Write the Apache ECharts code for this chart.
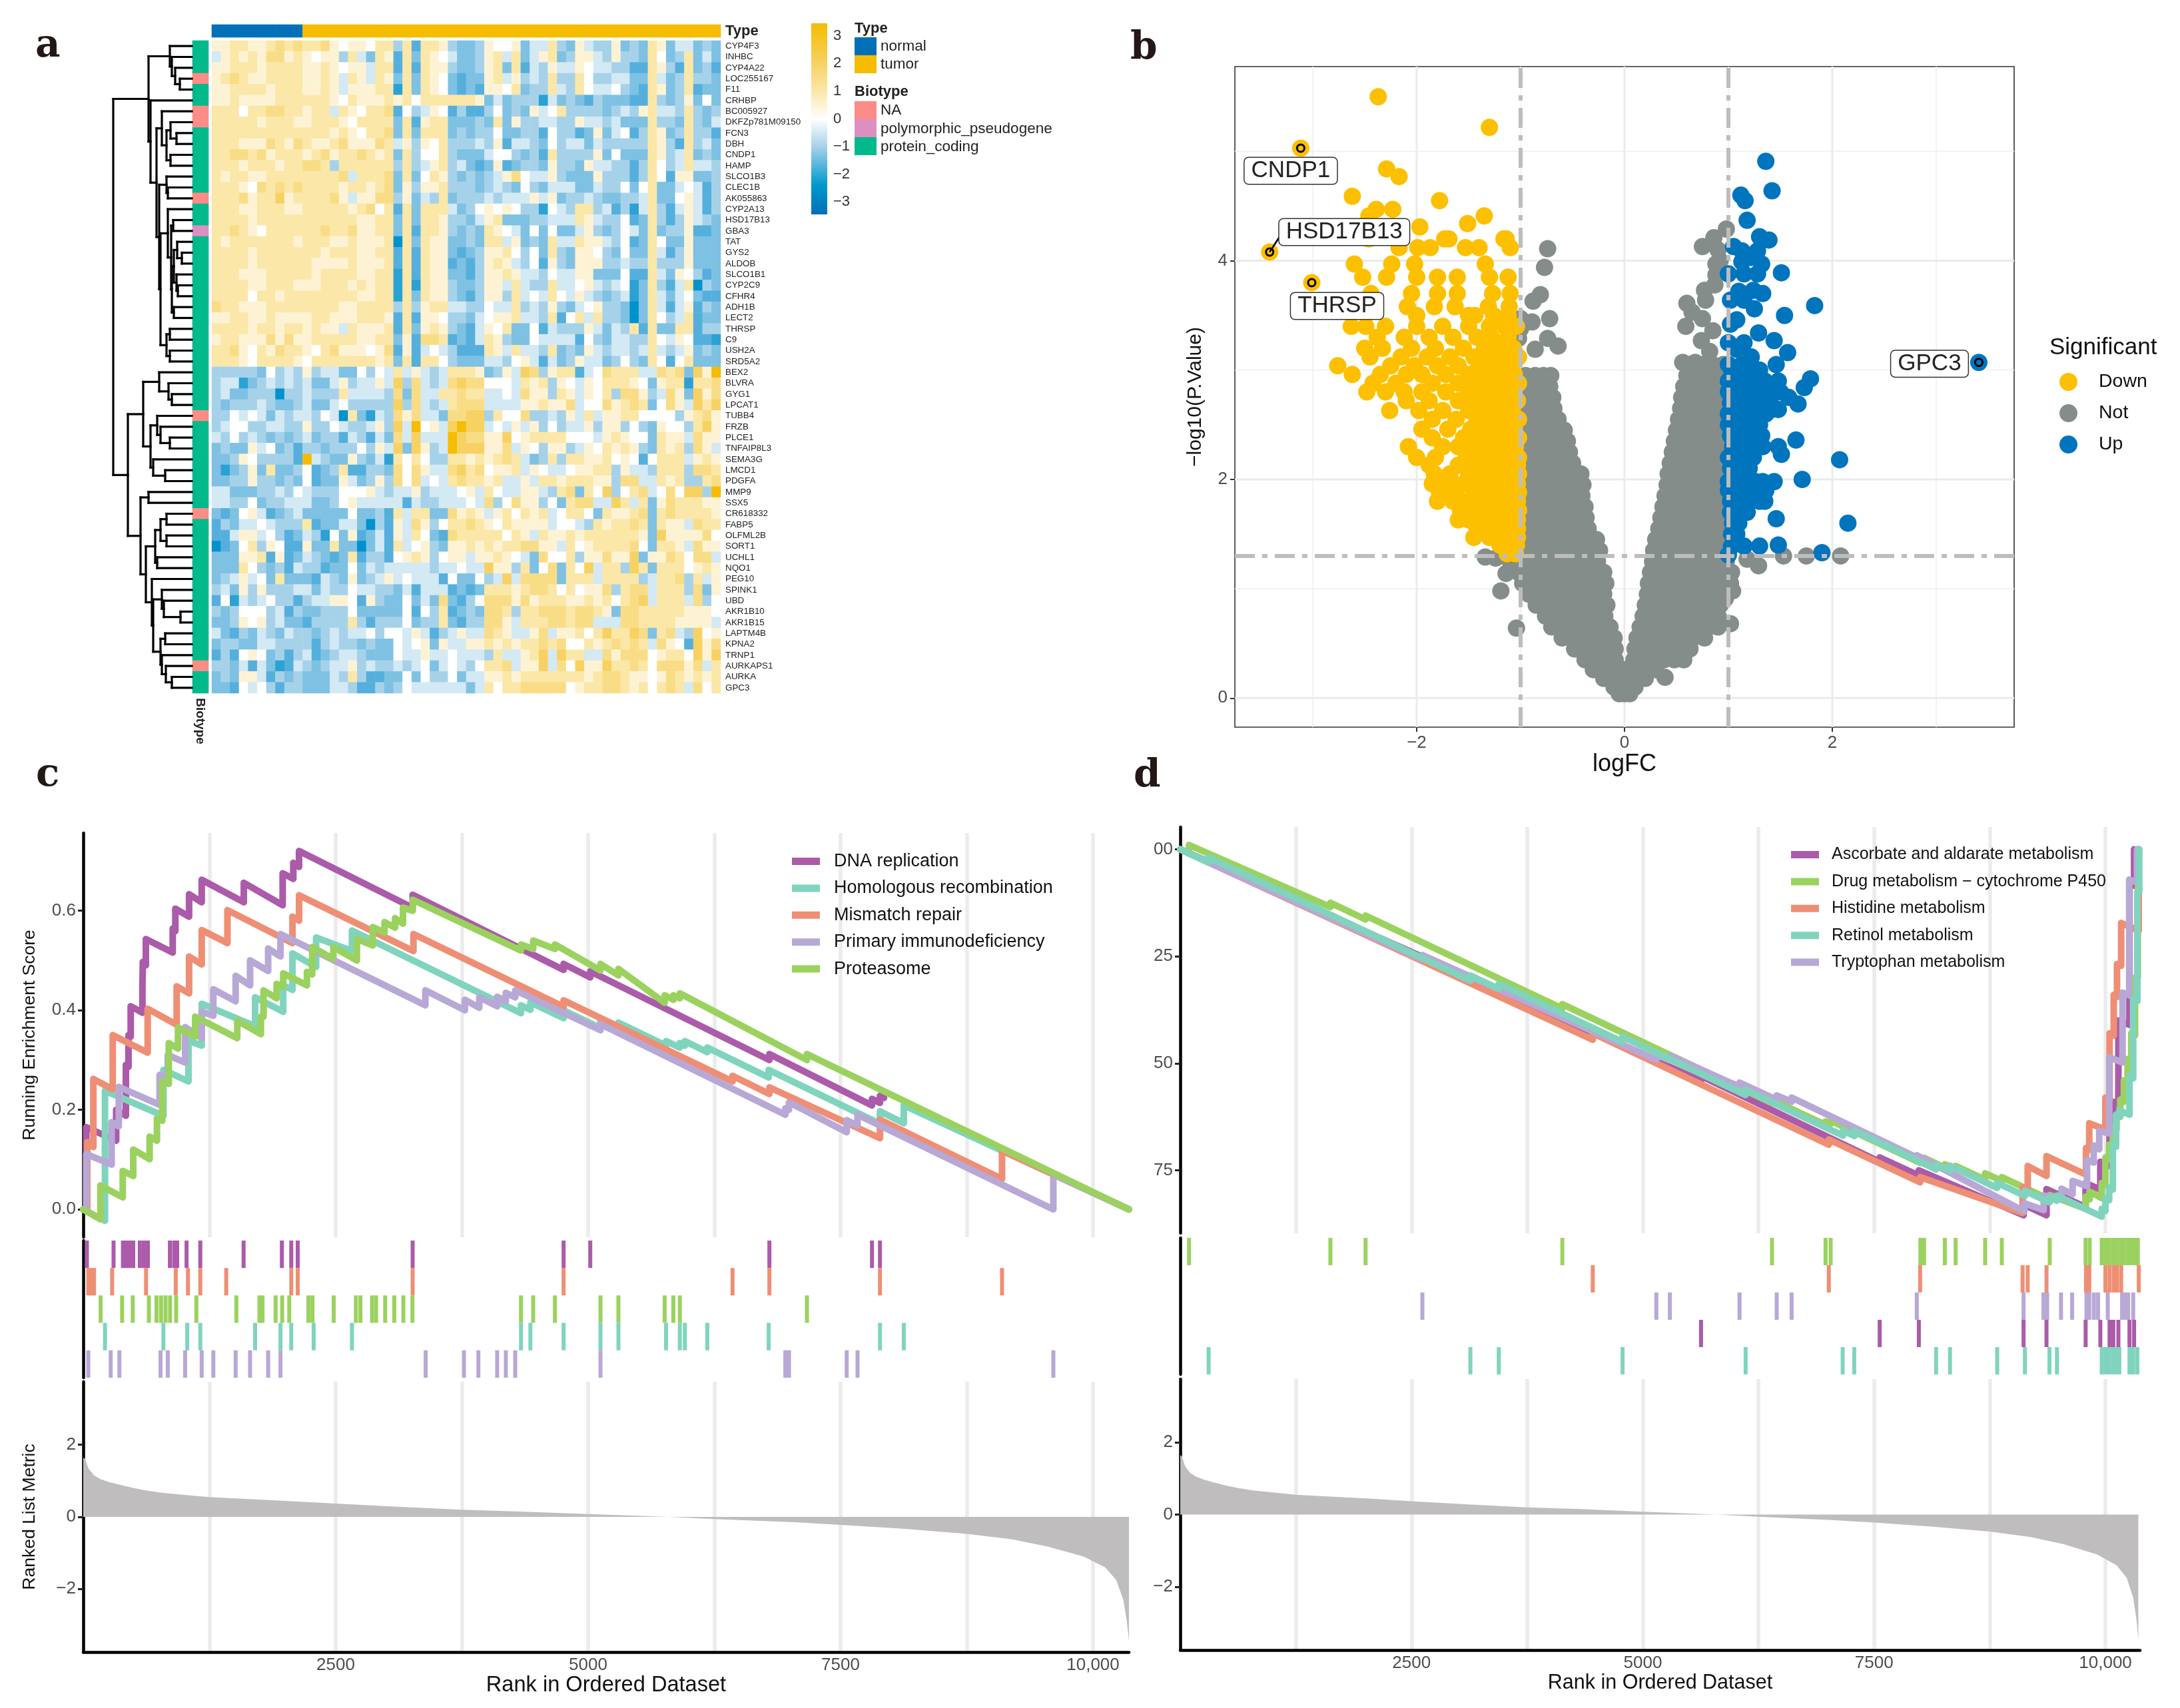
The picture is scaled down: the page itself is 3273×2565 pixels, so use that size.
<!DOCTYPE html>
<html><head><meta charset="utf-8">
<style>html,body{margin:0;padding:0;background:#fff}#c{width:3273px;height:2565px}</style>
<script src="https://cdn.jsdelivr.net/npm/echarts@6/dist/echarts.min.js"></script>
</head><body><div id="c"></div>
<script>
/* ---------- panel a: heatmap ---------- */
const geneNames=["CYP4F3","INHBC","CYP4A22","LOC255167","F11","CRHBP","BC005927","DKFZp781M09150","FCN3","DBH","CNDP1","HAMP","SLCO1B3","CLEC1B","AK055863","CYP2A13","HSD17B13","GBA3","TAT","GYS2","ALDOB","SLCO1B1","CYP2C9","CFHR4","ADH1B","LECT2","THRSP","C9","USH2A","SRD5A2","BEX2","BLVRA","GYG1","LPCAT1","TUBB4","FRZB","PLCE1","TNFAIP8L3","SEMA3G","LMCD1","PDGFA","MMP9","SSX5","CR618332","FABP5","OLFML2B","SORT1","UCHL1","NQO1","PEG10","SPINK1","UBD","AKR1B10","AKR1B15","LAPTM4B","KPNA2","TRNP1","AURKAPS1","AURKA","GPC3"];
const levelValues={a:-3,b:-2.5,c:-2,d:-1.5,e:-1,f:-.5,g:0,h:.5,i:1,j:1.5,k:2,l:3};
const heatRows=[
"hhiihhijijiijhghhgii eiciihedde hgghdffied hfeehdedihdffded",
"fhihihjjhihghheifdih cidihgfdde hifidfhide hhfeheedigdeidfd",
"hhiiihiiiihhihghhfii cicihhedde hidicfehff hgffeeccihecidec",
"hijihhiiiihhihfihfih didihgdcdd hifhefeiee igeeffddifdeieed",
"hhiiiihiiihhihfhhhii bidihgdcdc hhgideeife igffgedcihdeicdd",
"hhihhhhiiiiiihgihhhi higiiiiiih dfdeeebfde dcedddcciedehdgd",
"iiigiijjiihiifihgiij cgefhgcecc egdedhfgie eeedefehiffeiede",
"iiiiihiiihhiiihgiiii dichiiddde didheeffee hffefdddieediedf",
"iiiiiiiiiiiiihihgiij didiiidede egddeecgee cdhdfgceihdeieec",
"iiihhhjihjihhijhhhji fhehgieeef ehcffedgef fdfeeeeeiheciefd",
"iijjijhiiihijhiijihi dieggieddd fggedeciee eehdgdddihefided",
"iiihiiihiijjieiiiiii eiefhiefdc dhcdeedhee dhffeeceigefiffe",
"ihiihhiiiiiiiijfiiij didgiheded efhjgffhed ddheeeceigchhdde",
"iiihgjijijiiiihiihij dhehhieeed efedgedfff ddfeegdgiddfgfce",
"iiijhiikhiiiijhfhhjj ehdfeideee fefffhfhde efeddeefiddghfce",
"iiihhiiihhiiiiihijgi cidiiifdeg hghgeebgfe iiefcebfiecfhfce",
"iiiihiiiiiiiiiiihhii didiiheedf hidddeefff ihfeegcdiecehfed",
"iijihgiiiiiijiijhhii diciiheded ihgfdgdgdd fhedegfdideehccd",
"ihiiiiiiihiiihhihhhi aidihhdded iifhdediff ihhfegcdigddhddd",
"iiiihiiiiiiihiiihhii cicihhdcde hhigegdied hhgedgddifcehddd",
"iiiihiiiiiihhhhihhhi cicihhcdce hihfegched hhheefeeieeehddd",
"iiihhhiiiiihiiiihhii bicihhddce hhihffegff hhdddgccifdhgecd",
"iiiihhiiihhhiiihihii bibihhedde hhfifeeiff ghfefgbdiecfiaed",
"iiiigiihiiiiiiiihhii bidihhedce hheifgfigf hfedefbdifdfgdcc",
"jiihhhiiiiiiiihhiiii eiehiiffee gffiefehed fgheedadifcfhced",
"hhiihhihhhhiihhhiiih cichhgeedf ghhiffeicg ifieedadigeficdd",
"iiiihiihiihihhfihhhi cidhihedcf hgiddgcfee ehfdfeiciddiicee",
"hiihhhjhjhhiiiiihhii dhcjjicdcf iheddgffff cgedffeeigfhgccb",
"iijhgihjiihgijhhhghj chcfgfeccc ihfiffeide dhfeffefifefhded",
"iiihgiiiihgiiiiiiihi diciigeddd ffeghfcfde hffdegedigcgiddd",
"eeeeedgefeheffddgegf ifhfefiiih dehfkjehii cfgjiiiffjijdkhl",
"effbdefefefddfheffhf kejfefjkjj gggfihiehg fhgiiihgdhiibiij",
"efddeeeaeefeeeiffffe jdjffiijii ffgfjhheih fhgiejjhefjhdkhj",
"edeeefeddefddfgeeeee kejfefijjj ffffhhihhj fggjhijidgjhfkik",
"eegfgfdfeffegfaidbfe jhjffdjjkk eiggjeefeh fifhhiiggggehijh",
"efggeeffeeheegfeefhe kflghfklkk fgfhfhegef fhehhegedhggeikh",
"fegefededefdeecfecfd jfkffflkjj hhkghiiiig ggfhihggdihhfjhh",
"deddhfgdeceedeeegehf kdkheflkkk hhjfhgehhe fhgihihedihiejhf",
"ddehgeeeeclfeddhedfb igigeeiihi hijifdeiei ihhighgcgiiifhih",
"dbdehdiddegcdeicceed jgjhffjkij ghhifhgffg hhiiehffeiiiejji",
"ddeeheededgcddhfdehe jgjfgfijii hiffhfiihi iihhejjffihieeij",
"ffdddeefegfeeeggghfe ffhefffghf igffhhfeij digkegijfgjgkkel",
"ffeegdeefffddeghffff fcfeefffgf jegjhhegdi jjffkifidhjiiihh",
"dcdghfcdefdddddgddec ifiiddjhih fhigihifgi igdihhijdijiiiih",
"cedffgfeeeicddffdaec hfjhegiiji hgihhhhfgg feihiijidihhfjii",
"ccfhhfgecdfebgdhcdfc hfigdcjiii iigihfihhi hiiiiiihdkhhhhjg",
"acdgiehgcchddiddadfc ifghedhhih ihiijjhhfi ghiiiijgdiihfjhh",
"dddhhichcdfedcdiceec ghiheghhfh hihgfdjggi ehhjhhkdhhjigjjf",
"dddigedecfeecddgdfef ffffeffgff khheidgjdi gkfiiekidiiighih",
"defhfgdidddcfedhdefh fgfffcgddg efkfjjjjdi iifiiiiefiijeifh",
"efdheheeeffdfeegffee dfcfffcdcd iiihijjigi ghhjeijjfiiiejdh",
"cgbfefgeeceffhhgched dgdfdjdceg jjjhjhiiih hihigijkfiiifjeg",
"edegggefceddeeegdddd dgcgeicded jjieiijjji jjihdjjiiiiihhhg",
"ddehghefddceeeeiecee egdeeidcee jjhfiiijji jjfffjjiiiihhhhf",
"fdcedfedfeedefeffgeg gfhfcefhff jihffhjfhh igikiikjdijfekgh",
"deeddffeeeecefeededd gfghdhffhh ihihiijijg gihijijifjhgckhj",
"cecghgdecefcdeffeddd gffhffgfff eiffhikfki iffjhjjjghiigkhk",
"eedfcfdbcfedeffhefee fefgdfgfeg iijfhhkfjg khhkiijigjjjhjfi",
"dedhhfcededddfeieccd dgdgeegdff hhihiiiiii ihijjihhghjihihi",
"ddcgfgeceedddffecced egffffffdf igiijjjjjg hiijjihigijifjgi"];
const typeNames=["normal","tumor"];
const typeColors=["#0070b8","#f5bc00"];
const typeCounts=[10,46];
const biotypeNames=["NA","polymorphic_pseudogene","protein_coding"];
const biotypeColors=["#fb8d86","#dd8fc2","#00ba8b"];
const biotypeNARows=[3,6,7,14,34,43,57];
const biotypePseudoRows=[17];
const colorbarTicks=[3,2,1,0,-1,-2,-3];
const colorbarStops=[[3.45,"#f5bc00"],[2,"#f7d263"],[1,"#fbe7a8"],[0,"#ffffff"],[-1,"#a6d2e9"],[-2.4,"#0098cc"],[-3.45,"#0070b9"]];
/* dendrogram: [height, left, right], leaves are row indexes */
const dendroTree=[118,
 [65,[33,0,[30,1,[25,2,[18,3,4]]]],
  [62,5,[53,
   [45,6,[38,[32,7,[23,8,9]],[32,10,11]]],
   [49,[38,12,[36,13,14]],
    [47,[36,15,[31,[28,16,17],[30,[27,[22,18,[15,19,20]],[23,21,[21,22,23]]],[27,24,25]]]],
     [38,[33,26,27],[33,28,29]]]]]]],
 [96,[73,[49,30,[35,31,[30,32,33]]],
   [62,[52,34,[47,35,[33,36,37]]],[58,38,[40,39,40]]]],
  [77,[65,41,42],
   [69,[55,[47,[38,43,44],[38,45,46]],[52,47,48]],
    [60,49,[58,[45,50,[42,51,[17,52,53]]],
     [47,[40,54,55],[45,56,[39,57,[30,58,59]]]]]]]]]];

/* ---------- panel b: volcano ([y, x, x, ...] rows) ---------- */
const notRows=[
[.04,-.05,0,.05],[.1,-.1,0,.1],[.18,-.2,-.1,0,.1,.2],[.26,-.3,-.2,-.1,0,.1,.2,.3],
[.35,-.38,-.28,-.18,-.09,.09,.18,.28,.38,.48,.57],[.45,-.48,-.38,-.27,-.16,-.09,.1,.2,.31,.42,.53,.63],
[.55,-.6,-.49,-.38,-.27,-.17,-.1,.12,.22,.33,.44,.55,.66,.77],[.65,-.7,-.59,-.47,-.36,-.25,-.14,.15,.26,.37,.48,.59,.7,.81,.9],
[.75,-.76,-.65,-.53,-.42,-.3,-.19,.18,.3,.42,.54,.66,.78,.9],[.85,-.85,-.73,-.61,-.5,-.38,-.27,-.17,.2,.32,.44,.56,.68,.8,.92],
[.95,-.92,-.8,-.68,-.56,-.44,-.32,-.2,.22,.34,.46,.58,.7,.82,.94],[1.05,-.98,-.86,-.74,-.62,-.5,-.38,-.26,-.18,.23,.35,.47,.59,.71,.83,.95,1.02],
[1.15,-1.02,-.9,-.78,-.66,-.54,-.42,-.3,-.2,.25,.37,.49,.61,.73,.85,.97,1.03],[1.25,-1.1,-.97,-.85,-.73,-.61,-.49,-.37,-.26,.27,.39,.51,.63,.75,.87,.98],
[1.35,-1.05,-.93,-.81,-.69,-.57,-.45,-.33,-.24,.28,.4,.52,.64,.76,.88,.97],[1.45,-.98,-.86,-.74,-.62,-.5,-.38,-.27,.3,.42,.54,.66,.78,.9,.97],
[1.55,-.95,-.83,-.71,-.59,-.47,-.35,.33,.45,.57,.69,.81,.93],[1.65,-.98,-.86,-.74,-.62,-.5,-.37,.35,.47,.59,.71,.83,.95],
[1.75,-.95,-.83,-.71,-.59,-.47,-.38,.37,.49,.61,.73,.85,.97],[1.85,-.97,-.85,-.73,-.61,-.49,-.41,.39,.51,.63,.75,.87,.96],
[1.95,-.95,-.83,-.71,-.59,-.47,-.4,.41,.53,.65,.77,.89,.97],[2.05,-.97,-.85,-.73,-.61,-.5,-.42,.42,.54,.66,.78,.9,.97],
[2.15,-.95,-.83,-.71,-.6,-.5,.44,.56,.68,.8,.92],[2.25,-.97,-.85,-.73,-.62,-.53,.46,.58,.7,.82,.94],
[2.35,-.95,-.83,-.72,-.62,-.55,.48,.6,.72,.84,.96],[2.45,-.97,-.86,-.75,-.65,-.58,.5,.62,.74,.86,.97],
[2.55,-.95,-.84,-.74,-.64,.52,.64,.76,.88,.97],[2.65,-.97,-.87,-.77,-.68,.54,.66,.78,.9],
[2.75,-.95,-.85,-.76,-.69,.55,.67,.79,.91],[2.85,-.97,-.88,-.79,-.72,.57,.69,.81,.93],
[2.95,-.95,-.86,-.78,-.71,.6,.72,.84,.95],[3.05,.62,.73,.85,.95],
[3.07,.56,.68],[3.17,.82],[3.19,-.86],[3.22,-.64],[3.27,.74],[3.29,-1.02,-.74],[3.36,.85],[3.38,-1],[3.4,.59],[3.44,-.89],[3.47,-1,-.72,.75],[3.53,.65],[3.61,.6],[3.63,-.88],[3.64,.78],[3.69,-.81],[3.73,.77],[3.78,.87],[3.87,.88],[3.94,-.77],[3.97,.88],[4,.92],[4.1,.9],[4.11,-.74],[4.13,.75],[4.21,.86],[4.29,.98],
[1.3,1.53,1.75,2.08],[1.21,1.29],[1.27,1.18],[.98,-1.19,1.04],[.91,.97],[.68,1.02],[.64,-1.04],[1.14,-1.14],[1.28,-1.24],[1.29,-1.34],[.19,.39]];
const downRows=[
[1.32,-1.13,-1.05],[1.4,-1.2,-1.12,-1.04],[1.47,-1.45,-1.3,-1.2,-1.1,-1.03],[1.55,-1.42,-1.3,-1.18,-1.07,-1.03],
[1.63,-1.6,-1.5,-1.35,-1.25,-1.13,-1.03],[1.72,-1.58,-1.42,-1.3,-1.18,-1.07,-1.02],[1.8,-1.8,-1.65,-1.5,-1.38,-1.25,-1.13,-1.03],
[1.88,-1.78,-1.62,-1.45,-1.33,-1.2,-1.08,-1.02],[1.96,-1.85,-1.7,-1.55,-1.4,-1.27,-1.14,-1.03],[2.05,-1.83,-1.68,-1.5,-1.36,-1.22,-1.09,-1.02],
[2.13,-1.88,-1.6,-1.45,-1.3,-1.16,-1.03],[2.2,-2,-1.82,-1.52,-1.38,-1.24,-1.1,-1.02],[2.3,-2.08,-1.75,-1.6,-1.46,-1.32,-1.18,-1.05],
[2.38,-1.85,-1.55,-1.4,-1.26,-1.12,-1.02],[2.46,-1.95,-1.7,-1.48,-1.34,-1.2,-1.06],[2.55,-1.85,-1.62,-1.42,-1.28,-1.14,-1.02],
[2.63,-2.26,-1.98,-1.75,-1.5,-1.36,-1.22,-1.08],[2.72,-2.1,-1.88,-1.6,-1.44,-1.3,-1.16,-1.03],[2.8,-2.48,-2.3,-2.12,-1.95,-1.72,-1.5,-1.37,-1.22,-1.08],
[2.88,-2.42,-2.2,-1.85,-1.6,-1.44,-1.3,-1.14,-1.02],[2.96,-2.62,-2.35,-2.1,-1.95,-1.72,-1.5,-1.36,-1.2,-1.06],
[3.04,-2.76,-2.25,-2.02,-1.8,-1.6,-1.4,-1.27,-1.1],[3.12,-2.45,-2.15,-1.9,-1.68,-1.45,-1.3,-1.17,-1.02],
[3.2,-2.5,-2.33,-2.05,-1.82,-1.55,-1.35,-1.2,-1.07],[3.3,-2.38,-2.12,-1.88,-1.65,-1.42,-1.28,-1.12],
[3.4,-2.63,-2.49,-2.3,-2,-1.75,-1.5,-1.3,-1.15,-1.04],[3.5,-2,-1.5,-1.44,-1.26,-1.12],[3.58,-2.09,-1.83,-1.63,-1.31,-1.11],
[3.7,-2.05,-1.8,-1.61,-1.27,-1.1,-2.44],[3.85,-1.8,-1.61,-2.52,-2.29,-1.3,-1.12,-2],[3.97,-2.02,-2.24,-2.6,-1.34],
[4.12,-2.17,-1.87,-1.99,-1.4,-1.53,-1.1],[4.2,-1.73,-1.69,-2.46,-1.16,-1.14],[4.31,-1.97],[4.34,-1.51],[4.41,-1.35,-2.46],[4.47,-2.39,-2.23],[4.55,-1.78],[4.59,-2.62],[4.77,-2.17],[4.84,-2.29],[5.22,-1.3],[5.5,-2.37],
[5.03,-3.116],[4.08,-3.415],[3.8,-3.01]];
const upRows=[
[1.31,1],[1.33,1.9],[1.39,1.15,1.3,1.03],[1.4,1.48],[1.5,1.03,1.08],[1.6,1.04,1.1,2.15],[1.64,1.46],[1.7,1.02,1.1,1.18],[1.8,1.02,1.1,1.2,1.3,1.35],
[1.9,1,1.08,1.17,1.27,1.36],[1.98,1,1.08,1.16,1.26,1.33,1.44],[2,1.71],[2.1,1.02,1.1,1.2],[2.18,2.07],[2.2,1,1.07,1.15,1.24],[2.23,1.51],[2.3,1.04,1.12,1.2,1.33,1.48],[2.36,1.65],
[2.4,1.02,1.08,1.18,1.28,1.32],[2.5,1,1.06,1.14,1.24,1.3],[2.6,1,1.08,1.16,1.25,1.36],[2.64,1.42,1.48],[2.69,1.67],[2.7,1.02,1.1,1.2,1.3,1.4],[2.75,1.58],
[2.8,1,1.07,1.15,1.24,1.33,1.42,1.5],[2.84,1.73],[2.9,1,1.08,1.16,1.25,1.35,1.48],[2.92,1.79],[3,1.03,1.12,1.2,1.3],[3.05,1,1.13,1.46],[3.12,1.22],[3.16,1.57],[3.19,1.08],[3.25,1.15,1],[3.27,1.44],[3.34,1.29],[3.42,1.02],[3.46,1.08],[3.5,1.54],[3.56,1.25],[3.59,1.83],[3.64,1.02,1.15],[3.7,1.33],[3.72,1.1],[3.73,1.24],[3.88,1,1.15,1.28],[3.89,1.51],[3.97,1.32],[3.99,1.13],[4.03,1.22],[4.09,1.13,1.28],[4.13,1.05],[4.19,1.39],[4.22,1.3],[4.37,1.18],[4.55,1.16],[4.6,1.12],[4.64,1.42],[4.91,1.36],[3.07,3.41]];
const volcanoLabels=[["CNDP1",-3.116,5.03,-15,34],["HSD17B13",-3.415,4.08,112,-30],["THRSP",-3.01,3.8,38,35],["GPC3",3.41,3.07,-74,2]];
const hsdConnector=[[-3.415,4.08],[-3.32,4.22]];
const volcanoMajorX=[-2,0,2],volcanoMinorX=[-3,-1,1,3],volcanoMajorY=[0,2,4],volcanoMinorY=[1,3,5];
const thresholdX=[-1,1],thresholdY=[1.3];

/* ---------- panels c, d: GSEA; hits are [rank, score before, score after] ---------- */
const dnaHits=[[30,0,.165],[326,.138,.2],[422,.188,.29],[448,.286,.35],[470,.347,.408],[586,.395,.447],[590,.447,.497],[620,.49,.543],[886,.516,.564],[912,.559,.604],[1048,.588,.633],[1173,.617,.662],[1590,.617,.656],[1975,.611,.675],[2080,.664,.696],[2137,.688,.72],[3262,.606,.632],[4757,.481,.493],[5021,.466,.478],[6795,.3,.312],[7811,.209,.222],[7890,.214,.228],[7930,.224,.224]];
const mismatchHits=[[40,-.004,.135],[100,.125,.262],[292,.241,.35],[638,.315,.403],[925,.371,.448],[1048,.434,.508],[1173,.492,.561],[1428,.535,.601],[2072,.535,.588],[2137,.58,.631],[3270,.519,.553],[4757,.407,.42],[6430,.257,.268],[6795,.232,.245],[7890,.143,.18],[9099,.061,.118],[10356,0,0]];
const homologousHits=[[215,-.023,.238],[794,.188,.28],[1042,.257,.339],[1173,.329,.413],[1702,.368,.426],[1980,.397,.45],[2072,.441,.514],[2306,.487,.546],[2661,.519,.56],[4335,.394,.41],[4428,.401,.416],[4757,.384,.4],[5122,.364,.38],[5300,.362,.375],[5772,.329,.338],[5908,.325,.334],[5958,.329,.338],[6180,.316,.325],[6788,.265,.28],[7890,.172,.197],[8126,.173,.209],[10356,0,0]];
const primaryHits=[[30,0,.111],[281,.09,.175],[352,.167,.246],[756,.21,.27],[837,.262,.31],[1009,.295,.366],[1173,.344,.397],[1288,.389,.442],[1509,.418,.469],[1652,.45,.5],[1831,.479,.524],[1953,.508,.553],[3388,.41,.44],[3779,.4,.421],[3922,.405,.426],[4099,.408,.427],[4185,.418,.435],[4278,.426,.44],[5122,.36,.372],[6953,.19,.203],[6989,.2,.215],[7561,.155,.179],[7668,.168,.19],[9607,0,.07],[10356,0,0]];
const proteasomeHits=[[170,-.02,.048],[391,.024,.077],[495,.067,.12],[657,.101,.146],[730,.138,.183],[782,.178,.257],[847,.252,.334],[938,.323,.365],[1108,.347,.387],[1525,.344,.379],[1759,.352,.387],[1785,.387,.44],[1915,.424,.453],[1980,.447,.474],[2215,.45,.477],[2267,.472,.527],[2476,.503,.527],[2710,.5,.543],[2867,.53,.567],[2984,.556,.577],[3088,.566,.585],[3166,.574,.606],[3263,.6,.622],[4335,.52,.532],[4456,.523,.54],[4671,.523,.532],[5122,.48,.493],[5300,.47,.483],[5758,.415,.43],[5844,.421,.43],[5908,.424,.434],[7167,.3,.312],[10356,0,0]];
const dnaRug=[36,300,393,425,460,495,560,600,640,858,900,930,1023,1159,1588,1967,2060,2124,3262,4757,5021,6795,7811,7890];
const mismatchRug=[50,85,107,286,622,916,1037,1159,1416,2060,2124,3262,4757,6430,6795,7890,9099];
const proteasomeRug=[172,385,490,650,725,770,815,860,920,1120,1516,1745,1775,1905,1970,2040,2230,2270,2480,2700,2745,2860,2900,2990,3080,3170,3260,4335,4456,4671,5122,5300,5758,5844,5908,7167];
const homologousRug=[215,794,1030,1159,1702,1953,2060,2282,2661,4335,4428,4757,5122,5300,5772,5908,5958,6180,6788,7890,8126];
const primaryRug=[50,272,358,765,837,1009,1173,1288,1509,1652,1831,1953,3391,3770,3913,4099,4185,4278,5122,6953,6989,7561,7668,9607];

const ascorbateHits=[[5629,-.541,-.53],[7560,-.73,-.72],[7983,-.762,-.75],[9115,-.855,-.83],[9363,-.855,-.794],[9786,-.836,-.78],[9945,-.795,-.73],[10045,-.74,-.66],[10085,-.665,-.59],[10140,-.595,-.4],[10260,-.41,-.08],[10310,-.085,0],[10340,-.003,-.003]];
const drugHits=[[95,-.01,.01],[1623,-.135,-.125],[2003,-.164,-.155],[4130,-.372,-.362],[6396,-.593,-.585],[6975,-.644,-.636],[7030,-.642,-.634],[8000,-.733,-.725],[8040,-.729,-.721],[8264,-.744,-.736],[8381,-.748,-.74],[8700,-.772,-.757],[8880,-.775,-.766],[9398,-.818,-.808],[9785,-.84,-.812],[9830,-.818,-.8],[9960,-.815,-.78],[10000,-.785,-.72],[10040,-.725,-.69],[10080,-.695,-.65],[10120,-.655,-.62],[10160,-.625,-.585],[10200,-.59,-.54],[10240,-.545,-.49],[10280,-.495,-.43],[10320,-.435,-.3],[10350,-.3,-.08],[10362,-.08,0]];
const histidineHits=[[4459,-.445,-.43],[7010,-.69,-.678],[7997,-.778,-.766],[9105,-.85,-.79],[9160,-.793,-.74],[9363,-.763,-.717],[9790,-.76,-.698],[9825,-.702,-.64],[10000,-.655,-.58],[10045,-.585,-.43],[10090,-.435,-.34],[10125,-.345,-.268],[10170,-.272,-.172],[10360,-.19,0]];
const retinolHits=[[307,-.031,-.019],[3136,-.307,-.295],[3443,-.326,-.314],[4781,-.45,-.438],[6111,-.574,-.562],[7164,-.669,-.657],[7288,-.67,-.658],[8170,-.748,-.736],[8320,-.751,-.739],[8830,-.791,-.779],[9130,-.81,-.798],[9395,-.825,-.813],[9476,-.821,-.809],[9960,-.858,-.84],[10000,-.845,-.815],[10040,-.82,-.79],[10080,-.795,-.69],[10115,-.695,-.62],[10150,-.625,-.61],[10260,-.62,-.53],[10300,-.535,-.35],[10345,-.355,-.1],[10365,-.1,0]];
const tryptophanHits=[[2617,-.258,-.247],[5146,-.492,-.48],[5292,-.493,-.482],[6045,-.555,-.545],[6447,-.585,-.575],[6608,-.59,-.58],[7961,-.72,-.715],[9123,-.846,-.827],[9333,-.843,-.809],[9525,-.818,-.793],[9645,-.806,-.775],[9801,-.787,-.726],[9873,-.732,-.692],[9933,-.701,-.658],[10041,-.664,-.486],[10185,-.498,-.335],[10257,-.341,-.071],[10341,-.077,0],[10360,-.002,-.002]];
const drugRug=[95,1623,2003,4130,6396,6975,7030,8000,8040,8264,8381,8700,8880,9398,9785,9830,9960,10000,10040,10080,10120,10160,10200,10240,10280,10320,10350];
const histidineRug=[4459,7010,7997,9105,9160,9363,9790,9825,10000,10045,10090,10125,10170,10360];
const tryptophanRug=[2617,5146,5292,6045,6447,6608,7961,9115,9330,9370,9520,9640,9795,9825,9875,9920,10025,10180,10205,10245,10300];
const ascorbateRug=[5629,7560,7983,9115,9363,9786,9945,10045,10085,10140,10260,10310];
const retinolRug=[307,3136,3443,4781,6111,7160,7285,8170,8320,8830,9130,9395,9476,9960,10000,10040,10080,10115,10150,10260,10300,10345];

/* ranked list metric [rank, metric] */
const rankedMetric=[[0,1.65],[20,1.6],[50,1.35],[107,1.15],[170,1.05],[250,.97],[350,.9],[465,.82],[608,.74],[780,.67],[966,.62],[1245,.55],[2040,.44],[2500,.37],[3110,.28],[3750,.2],[4330,.15],[5000,.08],[5615,.02],[5794,0],[6245,-.06],[7046,-.15],[7500,-.22],[8118,-.33],[8750,-.47],[9190,-.62],[9550,-.82],[9907,-1.1],[10120,-1.4],[10230,-1.75],[10300,-2.3],[10335,-2.9],[10356,-3.45]];
const scoreTicksC=[0,.2,.4,.6],scoreTicksD=[0,-.25,-.5,-.75],metricTicks=[-2,0,2],rankLabels=[2500,5000,7500,10000];

/* ---------- styling ---------- */
const PURPLE="#ab5ba9",GREEN="#9bd25f",SALMON="#ee8f75",TEAL="#80d4bd",LAV="#b8a8d6";
const FONT="'Liberation Sans',Arial,sans-serif";
const MINUS=v=>String(v).replace("-","\u2212");
const expandRows=rows=>rows.flatMap(([y,...xs])=>xs.map(x=>[x,y]));
const expandHits=hits=>{const out=[[0,0]];hits.forEach(([r,a,b])=>{out.push([r,a]);if(a!==b)out.push([r,b]);});return out;};

const grids=[
 {left:318,top:61,width:764,height:980},      /*0 heat*/
 {left:318,top:37,width:764,height:19},       /*1 type*/
 {left:289,top:61,width:24,height:980},       /*2 biotype*/
 {left:170,top:61,width:118,height:980},      /*3 dendro*/
 {left:1218,top:35,width:24,height:287},      /*4 colorbar*/
 {left:1854,top:100,width:1170,height:992,show:true,borderColor:"#333",borderWidth:1.6,backgroundColor:"transparent"}, /*5 volcano*/
 {left:125,top:1251,width:1570,height:607},   /*6*/
 {left:125,top:1863,width:1570,height:206},   /*7*/
 {left:125,top:2075,width:1570,height:406},   /*8*/
 {left:1772,top:1242,width:1441,height:610},  /*9*/
 {left:1772,top:1859,width:1441,height:205},  /*10*/
 {left:1772,top:2071,width:1441,height:407}   /*11*/
];
const hidden={show:false};
const cols=[...Array(56).keys()];
const xAxes=[],yAxes=[];
xAxes[0]={gridIndex:0,type:"category",data:cols,show:false};
yAxes[0]={gridIndex:0,type:"category",data:geneNames,inverse:true,position:"right",axisLine:hidden,axisTick:hidden,splitLine:hidden,
  axisLabel:{interval:0,margin:7,fontSize:13.4,fontFamily:FONT,color:"#222"}};
xAxes[1]={gridIndex:1,type:"category",data:cols,show:false};
yAxes[1]={gridIndex:1,type:"category",data:["Type"],show:false};
xAxes[2]={gridIndex:2,type:"category",data:["Biotype"],show:false};
yAxes[2]={gridIndex:2,type:"category",data:geneNames,inverse:true,show:false};
xAxes[3]={gridIndex:3,type:"value",min:0,max:118,inverse:true,show:false};
yAxes[3]={gridIndex:3,type:"value",min:0,max:60,inverse:true,show:false};
xAxes[4]={gridIndex:4,type:"value",min:0,max:1,show:false};
yAxes[4]={gridIndex:4,type:"value",min:-3.45,max:3.45,position:"right",axisLine:hidden,splitLine:hidden,axisTick:hidden,
  axisLabel:{customValues:colorbarTicks,formatter:MINUS,margin:9,fontSize:22,fontFamily:FONT,color:"#333"}};
xAxes[5]={gridIndex:5,type:"value",min:-3.75,max:3.75,splitLine:hidden,axisLine:{show:false,onZero:false},name:"logFC",nameLocation:"middle",nameGap:38,
  nameTextStyle:{fontSize:36,fontFamily:FONT,color:"#111"},
  axisTick:{customValues:volcanoMajorX,length:7,lineStyle:{color:"#333",width:2}},
  axisLabel:{customValues:volcanoMajorX,formatter:MINUS,margin:11,fontSize:26,fontFamily:FONT,color:"#4d4d4d"}};
yAxes[5]={gridIndex:5,type:"value",min:-.266,max:5.776,splitLine:hidden,axisLine:{show:false,onZero:false},name:"\u2212log10(P.Value)",nameLocation:"middle",nameGap:44,
  nameTextStyle:{fontSize:30,fontFamily:FONT,color:"#111"},
  axisTick:{customValues:volcanoMajorY,length:7,lineStyle:{color:"#333",width:2}},
  axisLabel:{customValues:volcanoMajorY,margin:11,fontSize:26,fontFamily:FONT,color:"#4d4d4d"}};
const blackLine={show:true,onZero:false,lineStyle:{color:"#000",width:4.5}};
const rankSplit={show:true,showMinLine:false,showMaxLine:false,lineStyle:{color:"#ebebeb",width:5.5}};
function gseaAxes(top,rug,bot,maxRank,yMin,yMax,scoreTicks,scoreFmt,scoreName,metricName,titleSize){
  xAxes[top]={gridIndex:top,type:"value",min:0,max:maxRank,interval:1250,axisLine:hidden,axisTick:hidden,axisLabel:hidden,splitLine:rankSplit};
  yAxes[top]={gridIndex:top,type:"value",min:yMin,max:yMax,splitLine:hidden,axisLine:blackLine,name:scoreName,nameLocation:"middle",nameGap:67,
    nameTextStyle:{fontSize:26.5,fontFamily:FONT,color:"#111"},
    axisTick:{customValues:scoreTicks,length:8,lineStyle:{color:"#222",width:3}},
    axisLabel:{customValues:scoreTicks,formatter:scoreFmt,margin:11,fontSize:26,fontFamily:FONT,color:"#4d4d4d"}};
  xAxes[rug]={gridIndex:rug,type:"value",min:0,max:maxRank,show:false};
  yAxes[rug]={gridIndex:rug,type:"value",min:0,max:5,inverse:true,splitLine:hidden,axisTick:hidden,axisLabel:hidden,axisLine:blackLine};
  xAxes[bot]={gridIndex:bot,type:"value",min:0,max:maxRank,interval:1250,axisLine:blackLine,axisTick:hidden,splitLine:rankSplit,
    name:"Rank in Ordered Dataset",nameLocation:"middle",nameGap:32,nameTextStyle:{fontSize:titleSize,fontFamily:FONT,color:"#111"},
    axisLabel:{margin:7,fontSize:26,fontFamily:FONT,color:"#4d4d4d",hideOverlap:false,showMinLabel:false,showMaxLabel:false,
      formatter:v=>rankLabels.includes(v)?(v===10000?"10,000":String(v)):""}};
  yAxes[bot]={gridIndex:bot,type:"value",min:-3.75,max:3.75,splitLine:hidden,axisLine:blackLine,name:metricName,nameLocation:"middle",nameGap:67,
    nameTextStyle:{fontSize:26.5,fontFamily:FONT,color:"#111"},
    axisTick:{customValues:metricTicks,length:8,lineStyle:{color:"#222",width:3}},
    axisLabel:{customValues:metricTicks,formatter:MINUS,margin:11,fontSize:26,fontFamily:FONT,color:"#4d4d4d"}};
}
gseaAxes(6,7,8,10356,-.056,.756,scoreTicksC,v=>v.toFixed(1),"Running Enrichment Score","Ranked List Metric",32.6);
gseaAxes(9,10,11,10374,-.897,.052,scoreTicksD,v=>String(Math.round(Math.abs(v)*100)).padStart(2,"0"),"","",30.5);

/* ---------- series ---------- */
const series=[];
const heatData=[];
heatRows.forEach((s,r)=>{const row=s.replace(/\s/g,"");cols.forEach(c=>heatData.push([c,r,levelValues[row[c]||"g"]]));});
series.push({type:"heatmap",xAxisIndex:0,yAxisIndex:0,data:heatData,progressive:0,animation:false,itemStyle:{borderWidth:0},emphasis:{disabled:true}});

function cellItem(color){return (p,api)=>{const c=api.coord([api.value(0),api.value(1)]),s=api.size([1,1]);
  return {type:"rect",shape:{x:c[0]-s[0]/2-.3,y:c[1]-s[1]/2-.3,width:s[0]+.6,height:s[1]+.6},style:{fill:color(api.value(2))}};};}
const typeData=[];let ti=0;typeCounts.forEach((n,k)=>{for(let i=0;i<n;i++)typeData.push([ti++,0,k]);});
series.push({type:"custom",xAxisIndex:1,yAxisIndex:1,data:typeData,encode:{x:0,y:1},renderItem:cellItem(k=>typeColors[k]),animation:false,silent:true});
const biotypeData=geneNames.map((g,r)=>[0,r,biotypeNARows.includes(r)?0:biotypePseudoRows.includes(r)?1:2]);
series.push({type:"custom",xAxisIndex:2,yAxisIndex:2,data:biotypeData,encode:{x:0,y:1},renderItem:cellItem(k=>biotypeColors[k]),animation:false,silent:true});

function segItem(style){return (p,api)=>{const a=api.coord([api.value(0),api.value(1)]),b=api.coord([api.value(2),api.value(3)]);
  return {type:"line",shape:{x1:a[0],y1:a[1],x2:b[0],y2:b[1]},style:style};};}
function segSeries(gi,data,style,z){return {type:"custom",xAxisIndex:gi,yAxisIndex:gi,data,encode:{x:[0,2],y:[1,3]},renderItem:segItem(style),animation:false,silent:true,z};}

const dendroSegs=[];
function walk(n){ if(typeof n==="number")return [0,n+.5];
  const [h,l,r]=n,a=walk(l),b=walk(r);
  dendroSegs.push([a[0],a[1],h,a[1]],[b[0],b[1],h,b[1]],[h,a[1],h,b[1]]);
  return [h,(a[1]+b[1])/2];}
walk(dendroTree);
series.push(segSeries(3,dendroSegs,{stroke:"#000",lineWidth:3.2,lineCap:"square"},2));

series.push({type:"custom",xAxisIndex:4,yAxisIndex:4,data:[[0,-3.45,1,3.45]],encode:{x:[0,2],y:[1,3]},animation:false,silent:true,
 renderItem:(p,api)=>{const a=api.coord([api.value(0),api.value(3)]),b=api.coord([api.value(2),api.value(1)]);
  const stops=colorbarStops.map(([v,c])=>({offset:(3.45-v)/6.9,color:c}));
  return {type:"rect",shape:{x:a[0],y:a[1],width:b[0]-a[0],height:b[1]-a[1]},style:{fill:new echarts.graphic.LinearGradient(0,0,0,1,stops)}};}});

/* volcano */
const vx=[-3.75,3.75],vy=[-.266,5.776];
series.push(segSeries(5,[...volcanoMinorX.map(x=>[x,vy[0],x,vy[1]]),...volcanoMinorY.map(y=>[vx[0],y,vx[1],y])],{stroke:"#f0f0f0",lineWidth:1.6},1));
series.push(segSeries(5,[...volcanoMajorX.map(x=>[x,vy[0],x,vy[1]]),...volcanoMajorY.map(y=>[vx[0],y,vx[1],y])],{stroke:"#ebebeb",lineWidth:3},1));
const dotBase={type:"scatter",xAxisIndex:5,yAxisIndex:5,symbol:"circle",symbolSize:26,animation:false,silent:true,large:false};
series.push(Object.assign({},dotBase,{name:"Not",data:expandRows(notRows),itemStyle:{color:"#858d8a",opacity:1},z:3}));
series.push(Object.assign({},dotBase,{name:"Down",data:expandRows(downRows),itemStyle:{color:"#fdc000",opacity:1},z:4}));
series.push(Object.assign({},dotBase,{name:"Up",data:expandRows(upRows),itemStyle:{color:"#0075bd",opacity:1},z:4}));
series.push(segSeries(5,[...thresholdX.map(x=>[x,vy[0],x,vy[1]]),...thresholdY.map(y=>[vx[0],y,vx[1],y])],{stroke:"#bdbdbd",lineWidth:6,lineDash:[30,11,8,11]},5));
series.push({type:"line",xAxisIndex:5,yAxisIndex:5,data:hsdConnector,symbol:"none",lineStyle:{color:"#000",width:2.5},animation:false,silent:true,z:6});
series.push({type:"scatter",xAxisIndex:5,yAxisIndex:5,symbol:"circle",symbolSize:11,animation:false,silent:true,z:7,
  itemStyle:{color:"rgba(0,0,0,0)",borderColor:"#000",borderWidth:3,opacity:1},
  data:volcanoLabels.map(([n,x,y,dx,dy])=>({value:[x,y],label:{show:true,formatter:n,position:"inside",offset:[dx,dy],fontSize:35,fontFamily:FONT,color:"#222",
    backgroundColor:"#fff",borderColor:"#333",borderWidth:1.5,borderRadius:6,padding:[3,10,1,10]}}))});

/* GSEA */
function gseaLine(name,hits,color,gi){return {type:"line",name,xAxisIndex:gi,yAxisIndex:gi,data:expandHits(hits),showSymbol:false,symbol:"none",animation:false,silent:true,
  itemStyle:{color},lineStyle:{color,width:10,join:"round",cap:"round"},z:3};}
function rugSeries(ranks,row,color,gi){return {type:"custom",xAxisIndex:gi,yAxisIndex:gi,data:ranks.map(r=>[r,row]),encode:{x:0,y:1},animation:false,silent:true,
  renderItem:(p,api)=>{const a=api.coord([api.value(0),api.value(1)]),b=api.coord([api.value(0),api.value(1)+1]);
   return {type:"rect",shape:{x:a[0]-3,y:a[1],width:6,height:b[1]-a[1]},style:{fill:color}};}};}
function metricArea(gi){return {type:"line",xAxisIndex:gi,yAxisIndex:gi,data:rankedMetric,showSymbol:false,symbol:"none",animation:false,silent:true,
  lineStyle:{width:0},itemStyle:{color:"#bfbdbd"},areaStyle:{color:"#bfbdbd",opacity:1},z:3};}
series.push(gseaLine("DNA replication",dnaHits,PURPLE,6),gseaLine("Homologous recombination",homologousHits,TEAL,6),gseaLine("Mismatch repair",mismatchHits,SALMON,6),gseaLine("Primary immunodeficiency",primaryHits,LAV,6),gseaLine("Proteasome",proteasomeHits,GREEN,6));
series.push(rugSeries(dnaRug,0,PURPLE,7),rugSeries(mismatchRug,1,SALMON,7),rugSeries(proteasomeRug,2,GREEN,7),rugSeries(homologousRug,3,TEAL,7),rugSeries(primaryRug,4,LAV,7));
series.push(metricArea(8));
series.push(gseaLine("Ascorbate and aldarate metabolism",ascorbateHits,PURPLE,9),gseaLine("Drug metabolism \u2212 cytochrome P450",drugHits,GREEN,9),gseaLine("Histidine metabolism",histidineHits,SALMON,9),gseaLine("Tryptophan metabolism",tryptophanHits,LAV,9),gseaLine("Retinol metabolism",retinolHits,TEAL,9));
series.push(rugSeries(drugRug,0,GREEN,10),rugSeries(histidineRug,1,SALMON,10),rugSeries(tryptophanRug,2,LAV,10),rugSeries(ascorbateRug,3,PURPLE,10),rugSeries(retinolRug,4,TEAL,10));
series.push(metricArea(11));

/* ---------- legends and free text ---------- */
function gseaLegend(left,top,names,size,gap,pad){return {show:true,orient:"vertical",left,top,itemWidth:42,itemHeight:11,itemGap:gap,icon:"rect",data:names,selectedMode:false,padding:0,
  textStyle:{fontSize:size,fontFamily:FONT,color:"#111",padding:[0,0,0,pad]}};}
const txt=(x,y,text,o={})=>({type:"text",x,y,z:50,rotation:o.rotation||0,style:Object.assign({text,fontFamily:FONT,fontSize:22.5,fill:"#222",textVerticalAlign:"middle",verticalAlign:"middle",textAlign:"left",align:"left"},o.style||{})});
const rectG=(x,y,w,h,fill)=>({type:"rect",z:50,shape:{x,y,width:w,height:h},style:{fill}});
const letter=(x,y,t)=>({type:"text",x,y,z:50,style:{text:t,fontFamily:"'DejaVu Serif',serif",fontWeight:"bold",fontSize:58,fill:"#231815",verticalAlign:"bottom",align:"left"}});
const graphics=[
 letter(53,99,"a"),letter(1697,102,"b"),letter(54,1194,"c"),letter(1702,1195,"d"),
 txt(1089,47,"Type",{style:{fontWeight:"bold",fontSize:22}}),
 txt(300,1083,"Biotype",{rotation:-Math.PI/2,style:{fontWeight:"bold",fontSize:19,align:"center",textAlign:"center"}}),
 txt(1283,43,"Type",{style:{fontWeight:"bold",fontSize:22}}),
 rectG(1283,56,33,27,typeColors[0]),rectG(1283,83,33,27,typeColors[1]),
 txt(1322,70,typeNames[0]),txt(1322,97,typeNames[1]),
 txt(1283,138,"Biotype",{style:{fontWeight:"bold",fontSize:22}}),
 rectG(1283,152,33,27,biotypeColors[0]),rectG(1283,179,33,27,biotypeColors[1]),rectG(1283,206,33,27,biotypeColors[2]),
 txt(1322,166,biotypeNames[0]),txt(1322,194,biotypeNames[1]),txt(1322,221,biotypeNames[2]),
 txt(3077,522,"Significant",{style:{fontSize:35,fill:"#111"}})
];

const option={
 animation:false,backgroundColor:"#fff",
 textStyle:{fontFamily:FONT},
 grid:grids,xAxis:xAxes,yAxis:yAxes,series,
 visualMap:[{type:"continuous",show:false,seriesIndex:0,min:-3,max:3,calculable:false,
   inRange:{color:["#0092cc","#55afdc","#a6d2e9","#ffffff","#fbe7a8","#f7d263","#f5bc00"]}}],
 legend:[
  {show:true,orient:"vertical",left:3092,top:559,itemWidth:27,itemHeight:27,itemGap:18,icon:"circle",data:["Down","Not","Up"],selectedMode:false,padding:0,
   textStyle:{fontSize:28.5,fontFamily:FONT,color:"#111",padding:[0,0,0,27]}},
  gseaLegend(1189,1280,["DNA replication","Homologous recombination","Mismatch repair","Primary immunodeficiency","Proteasome"],27,13.4,16),
  gseaLegend(2689,1271,["Ascorbate and aldarate metabolism","Drug metabolism \u2212 cytochrome P450","Histidine metabolism","Retinol metabolism","Tryptophan metabolism"],25,15.4,14)
 ],
 graphic:graphics
};
const chart=echarts.init(document.getElementById("c"),null,{width:3273,height:2565,renderer:"canvas"});
chart.setOption(option);
</script></body></html>
